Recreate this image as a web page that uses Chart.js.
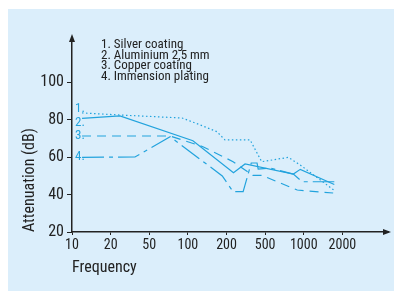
<!DOCTYPE html>
<html>
<head>
<meta charset="utf-8">
<style>
  html, body { margin: 0; padding: 0; background: #fff; }
</style>
</head>
<body>
<canvas id="grafico" width="395" height="292"></canvas>

<script src="https://cdn.jsdelivr.net/npm/chart.js"></script>
<script>
  // frequency tick labels (evenly spaced on the x axis, index 0..7)
  const freqLabels = ["10", "20", "50", "100", "200", "500", "1000", "2000"];
  const yTicks = [20, 40, 60, 80, 100];

  const legendLines = ["1. Silver coating", "2. Aluminium 2,5 mm", "3. Copper coating", "4. Immension plating"];
  const seriesTags = ["1.", "2.", "3.", "4."];
  const tagValues = [86, 78.5, 71.2, 60];

  // x positions are in tick-index units (0 = 10 Hz, 7 = 2000 Hz)
  const silverX = [0.26, 1.24, 2.85, 3.32, 3.75, 3.96, 4.61, 4.91, 5.60, 5.91, 6.77];
  const silverY = [83.5, 82.4, 80.8, 77.1, 73.5, 69.1, 69.1, 57.5, 59.8, 55.7, 42.5];

  const aluX = [0.26, 1.24, 3.13, 4.18, 4.48, 5.73, 5.91, 6.79];
  const aluY = [80.6, 81.9, 68.7, 51.6, 56.3, 50.9, 53.4, 45.3];

  const copperX = [0.26, 2.54, 3.39, 4.17, 4.68, 4.92, 5.83, 6.76];
  const copperY = [71.2, 71.2, 65.5, 57.5, 50.2, 50.2, 42.4, 40.8];

  const immX = [0.26, 1.63, 2.54, 3.89, 4.17, 4.43, 4.64, 4.79, 4.82, 5.13, 5.73, 5.96, 6.79];
  const immY = [59.8, 60, 70.8, 49.9, 41.5, 41.5, 56.8, 56.8, 53.5, 54.1, 50.9, 46.8, 46.8];

  const azul = "#22a3dd";
  const fonte = "'Liberation Sans Narrow', 'Roboto Condensed', 'Liberation Sans', sans-serif";
  const pontos = (xs, ys) => xs.map((x, i) => ({ x, y: ys[i] }));

  const fundo = {
    id: "fundo",
    beforeDraw(chart) {
      const c = chart.ctx;
      c.save();
      c.fillStyle = "#dbeefb";
      c.fillRect(8, 9, 386, 282);
      c.restore();
    },
    afterDraw(chart) {
      const c = chart.ctx;
      const a = chart.chartArea;
      const xs = chart.scales.x, ys = chart.scales.y;
      c.save();
      c.fillStyle = "#222";
      // setas dos eixos
      c.beginPath();
      c.moveTo(a.left, a.top - 6);
      c.lineTo(a.left - 3, a.top + 2);
      c.lineTo(a.left + 3, a.top + 2);
      c.closePath();
      c.fill();
      c.beginPath();
      c.moveTo(a.right + 3, a.bottom);
      c.lineTo(a.right - 5, a.bottom - 3);
      c.lineTo(a.right - 5, a.bottom + 3);
      c.closePath();
      c.fill();
      // legenda
      c.font = "13px " + fonte;
      c.textBaseline = "middle";
      c.fillStyle = "#222";
      legendLines.forEach((t, i) => c.fillText(t, 101, 45 + i * 10.6));
      // rótulos das séries
      c.fillStyle = azul;
      seriesTags.forEach((t, i) => c.fillText(t, xs.getPixelForValue(0) + 3, ys.getPixelForValue(tagValues[i])));
      c.restore();
    }
  };

  const ctx = document.getElementById("grafico").getContext("2d");
  new Chart(ctx, {
    type: "line",
    data: {
      datasets: [
        { label: "Silver coating", data: pontos(silverX, silverY), borderDash: [1.5, 2.5] },
        { label: "Aluminium 2,5 mm", data: pontos(aluX, aluY) },
        { label: "Copper coating", data: pontos(copperX, copperY), borderDash: [9, 6] },
        { label: "Immension plating", data: pontos(immX, immY), borderDash: [22, 5, 4, 5] }
      ].map(d => Object.assign({ borderColor: azul, borderWidth: 1.2, pointRadius: 0, tension: 0, fill: false }, d))
    },
    options: {
      responsive: false,
      animation: false,
      layout: { padding: { top: 40, right: 7, bottom: 10, left: 0 } },
      plugins: { legend: { display: false }, tooltip: { enabled: false } },
      scales: {
        x: {
          type: "linear",
          min: 0,
          max: 8.18,
          afterBuildTicks: s => { s.ticks = freqLabels.map((_, i) => ({ value: i })); },
          afterFit: s => { s.height = 50; },
          ticks: {
            autoSkip: false,
            maxRotation: 0,
            padding: 2,
            color: "#222",
            font: { family: fonte, size: 14 },
            callback: v => freqLabels[v]
          },
          grid: { drawOnChartArea: false, tickLength: 3, color: "#222" },
          border: { color: "#222", width: 1.5 },
          title: {
            display: true, text: "Frequency", align: "start", color: "#222",
            font: { family: fonte, size: 16 },
            padding: { top: 5 }
          }
        },
        y: {
          min: 20,
          max: 122.4,
          afterBuildTicks: s => { s.ticks = yTicks.map(v => ({ value: v })); },
          afterFit: s => { s.width = 72; },
          ticks: {
            padding: 3,
            color: "#222",
            font: { family: fonte, size: 16 }
          },
          grid: { drawOnChartArea: false, tickLength: 5, color: "#222" },
          border: { color: "#222", width: 1.5 },
          title: {
            display: true, text: "Attenuation (dB)", align: "start", color: "#222",
            font: { family: fonte, size: 16 },
            padding: { top: 20, bottom: 4 }
          }
        }
      }
    },
    plugins: [fundo]
  });
</script>
</body>
</html>
